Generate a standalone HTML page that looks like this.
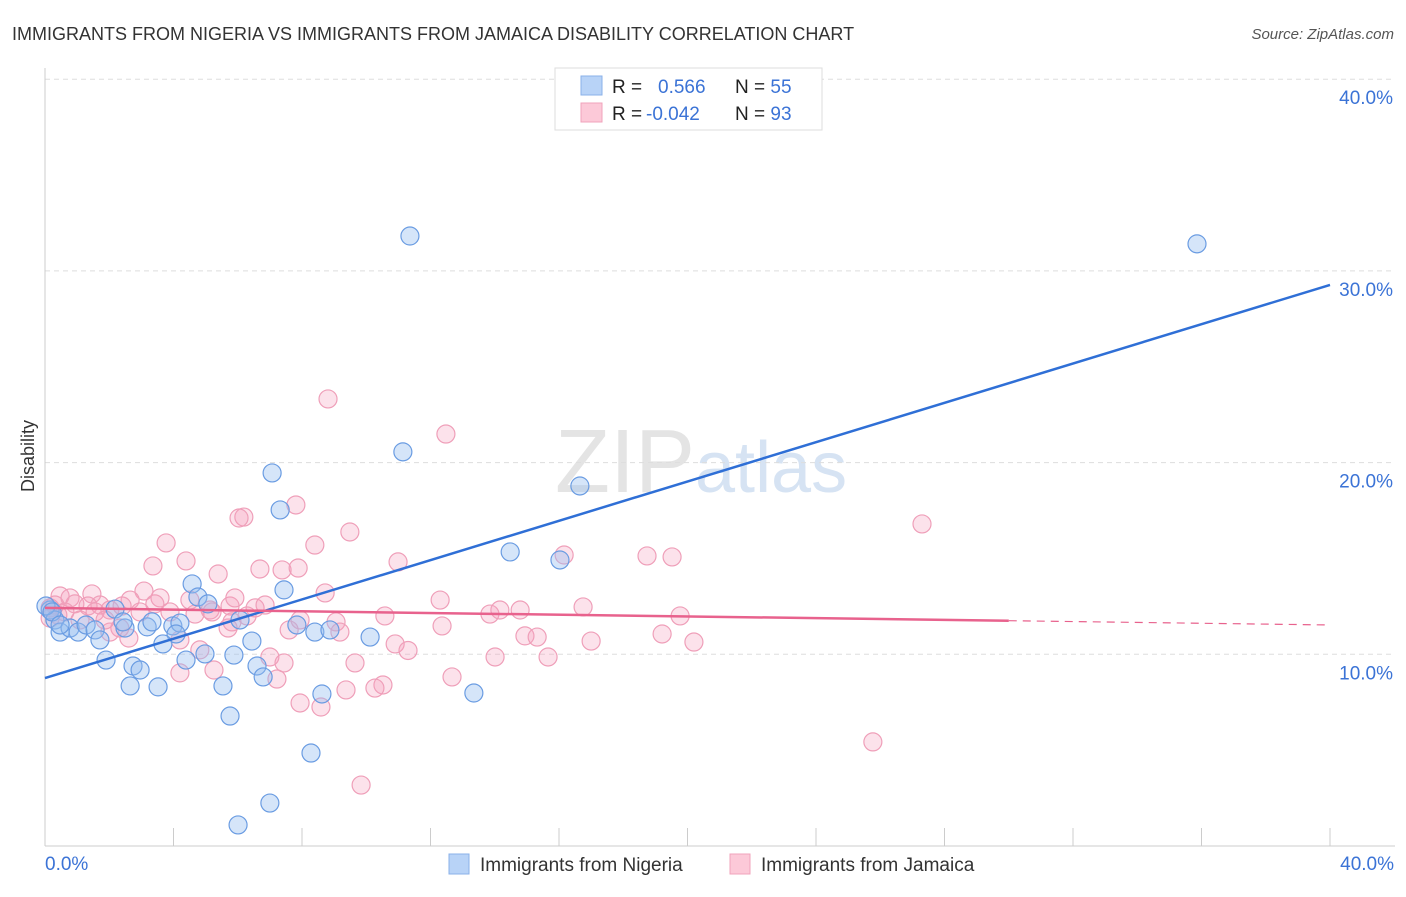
<!DOCTYPE html>
<html><head><meta charset="utf-8"><style>
body{margin:0;background:#fff;font-family:"Liberation Sans",sans-serif}
svg text{font-family:"Liberation Sans",sans-serif}
</style></head><body>
<svg id="chart" width="1406" height="892" xmlns="http://www.w3.org/2000/svg">
<text x="12" y="40" font-size="18" fill="#333">IMMIGRANTS FROM NIGERIA VS IMMIGRANTS FROM JAMAICA DISABILITY CORRELATION CHART</text>
<text x="1394" y="39" font-size="15" fill="#555" text-anchor="end" font-style="italic">Source: ZipAtlas.com</text>
<text x="555" y="492" font-size="90" fill="#e4e4e4" font-family="Liberation Serif">ZIP<tspan fill="#d6e3f3" font-family="Liberation Sans" font-size="72">atlas</tspan></text>
<text transform="translate(34,456) rotate(-90)" font-size="18" fill="#333" text-anchor="middle">Disability</text>
<g id="grid"></g>
<g id="pts"></g>
<g id="lines"></g>
<g>
<rect x="555" y="68" width="267" height="62" fill="#fff" stroke="#ddd"/>
<rect x="581" y="76" width="21" height="19" fill="#b8d3f7" stroke="#8ab0e8"/>
<rect x="581" y="103" width="21" height="19" fill="#fcc9d8" stroke="#f0a3bb"/>
<text x="612" y="93" font-size="19" fill="#222">R = <tspan fill="#3b73d6" x="658">0.566</tspan><tspan fill="#222" x="735">N = </tspan><tspan fill="#3b73d6">55</tspan></text>
<text x="612" y="120" font-size="19" fill="#222">R = <tspan fill="#3b73d6" x="646">-0.042</tspan><tspan fill="#222" x="735">N = </tspan><tspan fill="#3b73d6">93</tspan></text>
</g>
<g>
<rect x="449" y="854" width="20" height="20" fill="#b8d3f7" stroke="#8ab0e8"/>
<text x="480" y="871" font-size="19" fill="#333">Immigrants from Nigeria</text>
<rect x="730" y="854" width="20" height="20" fill="#fcc9d8" stroke="#f0a3bb"/>
<text x="761" y="871" font-size="19" fill="#333">Immigrants from Jamaica</text>
</g>
</svg>
<script>
const yTicks=[10,20,30,40];
const yTickLabels=["10.0%","20.0%","30.0%","40.0%"];
const xTicks=[0,4,8,12,16,20,24,28,32,36,40];
const xEndLabels=["0.0%","40.0%"];
const nigeriaX=[11.36,35.86,11.14,7.07,16.65,7.32,14.48,16.03,4.58,7.44,4.76,5.07,2.18,0.16,0.31,0.47,0.78,1.03,1.28,1.56,1.71,2.49,3.18,3.33,3.98,4.20,4.08,6.07,7.84,8.40,8.87,10.12,3.67,4.39,4.98,5.88,6.44,1.90,2.74,2.96,6.60,6.79,2.65,3.52,5.54,8.62,13.35,5.76,8.28,7.00,6.01,0.03,0.22,0.47,2.43];
const nigeriaY=[31.82,31.41,20.56,19.46,18.78,17.53,15.34,14.92,13.67,13.36,12.99,12.63,12.36,12.31,11.79,11.16,11.37,11.16,11.53,11.27,10.75,11.37,11.43,11.69,11.48,11.63,11.06,11.79,11.53,11.16,11.27,10.90,10.54,9.70,10.02,9.96,10.69,9.70,9.39,9.18,9.39,8.82,8.35,8.30,8.35,7.93,7.98,6.78,4.85,2.24,1.10,12.52,12.21,11.53,11.69];
const jamaicaX=[8.81,12.48,27.30,7.81,6.19,6.04,9.49,3.77,8.40,16.16,18.74,19.52,10.99,3.36,4.39,6.69,7.38,7.88,5.39,3.08,1.46,0.47,0.78,1.71,0.93,2.02,2.65,3.58,3.42,2.40,4.51,5.14,5.76,5.91,6.54,6.85,8.72,5.20,6.29,4.67,10.58,13.85,14.16,14.79,16.75,19.77,12.36,5.70,7.60,9.06,9.18,2.33,2.61,2.02,4.20,4.82,10.90,14.94,15.32,17.00,19.21,20.20,0.31,0.62,1.09,0.16,9.65,14.01,15.66,7.00,7.44,5.26,4.20,7.22,12.67,10.52,10.27,9.37,7.94,8.59,25.77,9.84,1.34,2.96,5.82,0.16,0.40,1.56,1.87,3.89,7.94,12.30,11.30];
const jamaicaY=[23.32,21.49,16.80,17.79,17.16,17.11,16.38,15.81,15.70,15.18,15.13,15.08,14.82,14.61,14.87,14.45,14.40,14.50,14.19,13.30,13.15,13.04,12.94,12.57,12.63,12.31,12.83,12.94,12.63,12.52,12.83,12.31,12.52,12.94,12.42,12.57,13.20,12.21,12.00,12.10,12.00,12.10,12.31,12.31,12.47,12.00,11.48,11.37,11.27,11.69,11.16,11.37,10.85,11.16,10.75,10.23,10.54,10.96,10.90,10.69,11.06,10.64,12.57,12.21,11.79,11.89,9.55,9.86,9.86,9.86,9.55,9.18,9.03,8.71,8.82,8.40,8.24,8.14,7.46,7.25,5.43,3.18,12.52,12.21,11.69,12.42,12.05,12.21,11.79,12.21,11.79,12.83,10.20];
const trendNigeria=[8.76,29.27];
const trendJamaica=[12.42,11.53];
const jamaicaSolidEnd=30;

const X0=45,X1=1330,Y0=846,PPU=19.17;
const sx=v=>X0+(v/40)*(X1-X0);
const sy=v=>Y0-v*PPU;
const NS="http://www.w3.org/2000/svg";
function mk(tag,attrs,parent){const e=document.createElementNS(NS,tag);for(const k in attrs)e.setAttribute(k,attrs[k]);parent.appendChild(e);return e;}
const grid=document.getElementById('grid');
yTicks.forEach((t,i)=>{
  const l=mk('line',{x1:X0,x2:1395,y1:sy(t),y2:sy(t),stroke:'#ddd','stroke-dasharray':'5,4'},grid);
  
  
  const tx=mk('text',{x:1393,y:sy(t)+25,'font-size':19,fill:'#3b73d6','text-anchor':'end'},grid);
  tx.textContent=yTickLabels[i];
  
  
});
const ax=mk('line',{x1:X0,x2:1395,y1:Y0,y2:Y0,stroke:'#ccc'},grid);


const ay=mk('line',{x1:X0,x2:X0,y1:68,y2:Y0,stroke:'#ccc'},grid);


xTicks.forEach(t=>{
  const l=mk('line',{x1:sx(t),x2:sx(t),y1:828,y2:Y0,stroke:'#ccc'},grid);
  
  
});
[[0,'start',X0],[40,'end',1394]].forEach((a,i)=>{
  const tx=mk('text',{x:a[2],y:870,'font-size':19,fill:'#3b73d6','text-anchor':a[1]},grid);
  tx.textContent=xEndLabels[i];
  
  
});
const pts=document.getElementById('pts');
jamaicaX.forEach((x,i)=>{
  const c=mk('circle',{cx:sx(x),cy:sy(jamaicaY[i]),r:9,fill:'rgba(245,160,190,0.3)',stroke:'#ef9fb9','stroke-width':1.2},pts);
  
  
});
nigeriaX.forEach((x,i)=>{
  const c=mk('circle',{cx:sx(x),cy:sy(nigeriaY[i]),r:9,fill:'rgba(150,190,240,0.4)',stroke:'#6a9ce2','stroke-width':1.2},pts);
  
  
});
const lines=document.getElementById('lines');
const bl=mk('line',{x1:sx(0),y1:sy(trendNigeria[0]),x2:sx(40),y2:sy(trendNigeria[1]),stroke:'#2f6fd6','stroke-width':2.5},lines);


const jm=v=>trendJamaica[0]+(trendJamaica[1]-trendJamaica[0])*v/40;
const pl=mk('line',{x1:sx(0),y1:sy(jm(0)),x2:sx(jamaicaSolidEnd),y2:sy(jm(jamaicaSolidEnd)),stroke:'#e8628d','stroke-width':2.5},lines);


const pd=mk('line',{x1:sx(jamaicaSolidEnd),y1:sy(jm(jamaicaSolidEnd)),x2:sx(40),y2:sy(jm(40)),stroke:'#e8628d','stroke-width':1.2,'stroke-dasharray':'8,6'},lines);


</script>
</body></html>
